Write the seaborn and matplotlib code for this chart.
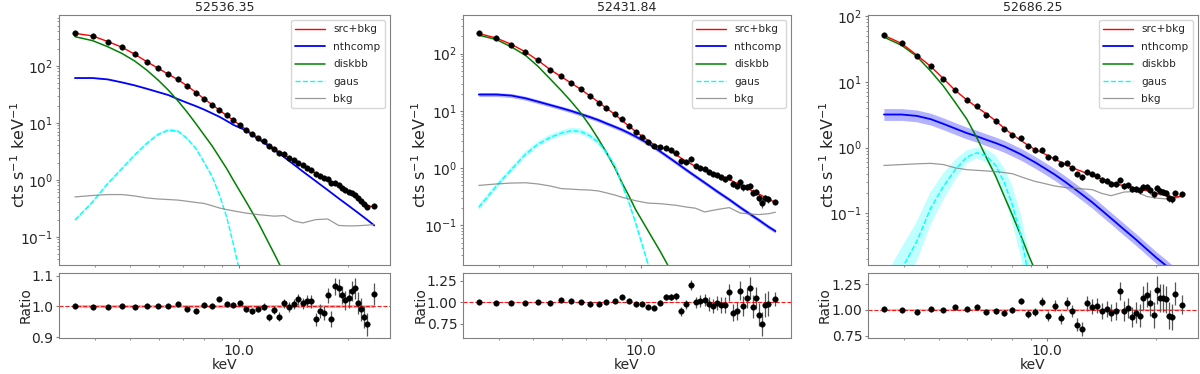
import numpy as np
import matplotlib
matplotlib.use("Agg")
import matplotlib.pyplot as plt
from matplotlib.ticker import FormatStrFormatter, NullFormatter, FixedLocator
import seaborn as sns

sns.set_style("ticks")
plt.rcParams["font.family"] = ["DejaVu Sans"]

# energy grids (keV): data channels and a coarser grid for the model components
energy = [3.52, 3.94, 4.34, 4.75, 5.15, 5.56, 5.98, 6.38, 6.78, 7.19, 7.60, 8.00,
          8.44, 8.84, 9.25, 9.65, 10.06, 10.48, 10.89, 11.31, 11.72, 12.10, 12.52, 12.92,
          13.34, 13.77, 14.18, 14.62, 15.03, 15.48, 15.88, 16.32, 16.75, 17.18, 17.62, 18.03,
          18.46, 18.89, 19.29, 19.72, 20.13, 20.52, 20.91, 21.36, 21.76, 22.20, 22.65, 23.70]
model_energy = [3.52, 3.94, 4.34, 4.75, 5.15, 5.56, 5.98, 6.38, 6.78, 7.19, 7.60, 8.00,
                8.44, 8.84, 9.25, 9.65, 10.48, 11.31, 12.52, 13.34, 14.18, 15.03, 16.32,
                17.62, 18.89, 20.13, 21.36, 22.65, 23.70]

titles = ["52536.35", "52431.84", "52686.25"]

# ---- 52536.35
total_1 = [369, 333, 265, 211, 159, 118, 90, 71, 57, 44.5, 34.3, 26.5, 20.7, 16.6, 13.4, 11.1,
           9.1, 7.6, 6.4, 5.5, 4.75, 4.1, 3.55, 3.1, 2.75, 2.43, 2.18, 1.96, 1.77, 1.58, 1.45, 1.31,
           1.19, 1.09, 1.00, 0.92, 0.84, 0.76, 0.70, 0.645, 0.60, 0.555, 0.51, 0.465, 0.425, 0.39, 0.355, 0.33]
ratio_1 = [1.002, 0.999, 0.997, 1.003, 0.998, 1.001, 1.001, 1.002, 1.008, 0.993, 0.985, 1.004,
           1.003, 1.023, 1.007, 1.004, 1.012, 0.991, 0.984, 0.992, 0.999, 0.964, 0.987, 0.967,
           1.010, 0.999, 1.007, 1.024, 1.010, 1.017, 1.017, 0.958, 0.985, 0.979, 1.036, 0.958,
           1.065, 1.059, 1.038, 1.020, 1.026, 1.051, 1.059, 1.011, 0.990, 0.966, 0.942, 1.042]
ratio_err_1 = [0.002, 0.002, 0.002, 0.002, 0.002, 0.003, 0.003, 0.003, 0.003, 0.004, 0.004, 0.004,
               0.005, 0.005, 0.006, 0.006, 0.007, 0.008, 0.009, 0.010, 0.011, 0.012, 0.013, 0.014,
               0.015, 0.016, 0.017, 0.018, 0.019, 0.020, 0.021, 0.022, 0.023, 0.024, 0.025, 0.026,
               0.028, 0.029, 0.030, 0.031, 0.032, 0.033, 0.034, 0.035, 0.036, 0.037, 0.038, 0.036]
nthcomp_1 = [60.8, 60.8, 57.5, 51.0, 45.2, 39.5, 34.5, 30.6, 26.0, 22.4, 19.6, 17.1, 14.6, 12.7,
             10.8, 9.2, 7.3, 5.2, 3.36, 2.50, 1.86, 1.40, 0.948, 0.659, 0.471, 0.350, 0.264, 0.199, 0.158]
diskbb_1 = [323, 275, 215, 164, 121, 84, 56, 37.4, 24.3, 15.4, 9.7, 6.2, 3.9, 2.47, 1.58, 0.99,
            0.41, 0.178, 0.051, 0.0228, 0.009, 0.004, 1e-3, 3e-4, 1e-4, 3e-5, 1e-5, 3e-6, 1e-6]
gaus_1 = [0.196, 0.41, 0.86, 1.58, 2.71, 4.34, 6.24, 7.43, 7.14, 5.31, 3.55, 2.07, 1.13, 0.538,
          0.224, 0.076, 0.0078, 1e-3, 1e-5, 1e-6, 1e-7, 1e-8, 1e-9, 1e-9, 1e-9, 1e-9, 1e-9, 1e-9, 1e-9]
bkg_1 = [0.50, 0.53, 0.55, 0.55, 0.52, 0.48, 0.46, 0.45, 0.44, 0.42, 0.40, 0.385, 0.35, 0.32,
         0.30, 0.285, 0.26, 0.245, 0.23, 0.235, 0.19, 0.175, 0.20, 0.205, 0.158, 0.155, 0.156, 0.16, 0.164]

# ---- 52431.84
total_2 = [224, 187, 145, 107, 76, 53, 39.5, 30.5, 23.8, 18.3, 14.2, 11.1, 8.7, 6.8, 5.4, 4.35,
           3.6, 3.0, 2.55, 2.35, 2.15, 1.95, 1.72, 1.50, 1.33, 1.19, 1.07, 0.99, 0.93, 0.87, 0.82, 0.77,
           0.72, 0.67, 0.63, 0.59, 0.55, 0.51, 0.48, 0.45, 0.42, 0.395, 0.37, 0.35, 0.33, 0.31, 0.29, 0.25]
ratio_2 = [1.004, 0.996, 0.988, 0.996, 1.008, 0.992, 1.031, 1.012, 1.004, 0.977, 0.977, 1.008,
           1.012, 1.062, 1.019, 0.985, 0.985, 0.942, 0.938, 0.996, 1.058, 1.062, 1.069, 0.896,
           0.977, 1.200, 1.000, 1.012, 1.027, 0.981, 0.962, 0.992, 0.969, 0.965, 1.119, 0.881,
           0.900, 1.138, 0.958, 1.050, 1.165, 0.950, 1.050, 0.858, 0.746, 0.965, 0.985, 1.038]
ratio_err_2 = [0.004, 0.004, 0.004, 0.005, 0.005, 0.006, 0.006, 0.007, 0.008, 0.009, 0.010, 0.011,
               0.013, 0.015, 0.017, 0.019, 0.022, 0.025, 0.028, 0.032, 0.036, 0.040, 0.044, 0.050,
               0.055, 0.060, 0.065, 0.070, 0.074, 0.078, 0.082, 0.086, 0.090, 0.094, 0.098, 0.100,
               0.105, 0.110, 0.115, 0.120, 0.125, 0.130, 0.130, 0.135, 0.140, 0.140, 0.145, 0.080]
nthcomp_2 = [19.3, 19.3, 18.5, 16.6, 14.5, 12.7, 11.2, 9.96, 8.8, 7.8, 6.9, 6.04, 5.28, 4.68,
             4.09, 3.57, 2.69, 1.95, 1.25, 0.94, 0.72, 0.56, 0.39, 0.283, 0.207, 0.158, 0.123, 0.095, 0.0795]
diskbb_2 = [210, 176, 131, 93.5, 60, 36.5, 22.7, 14.5, 9.2, 5.5, 3.2, 1.87, 1.02, 0.556, 0.324,
            0.189, 0.0785, 0.035, 0.011, 0.006, 0.003, 1.5e-3, 5e-4, 2e-4, 7e-5, 2e-5, 7e-6, 2e-6, 1e-6]
gaus_2 = [0.207, 0.485, 0.95, 1.75, 2.62, 3.43, 4.09, 4.5, 4.38, 3.67, 2.8, 1.87, 1.09, 0.52,
          0.247, 0.11, 0.020, 2e-3, 1e-5, 1e-6, 1e-7, 1e-8, 1e-9, 1e-9, 1e-9, 1e-9, 1e-9, 1e-9, 1e-9]
bkg_2 = [0.50, 0.53, 0.55, 0.556, 0.53, 0.49, 0.44, 0.43, 0.42, 0.415, 0.40, 0.37, 0.34, 0.31,
         0.29, 0.27, 0.245, 0.24, 0.225, 0.21, 0.20, 0.172, 0.19, 0.205, 0.165, 0.158, 0.155, 0.16, 0.17]

# ---- 52686.25
total_3 = [51, 38.4, 25.6, 17.1, 11.2, 7.35, 5.3, 4.1, 3.25, 2.55, 1.96, 1.57, 1.29, 1.08, 0.93,
           0.84, 0.75, 0.67, 0.60, 0.545, 0.50, 0.46, 0.43, 0.40, 0.38, 0.355, 0.33, 0.31, 0.29,
           0.28, 0.27, 0.265, 0.26, 0.25, 0.24, 0.235, 0.225, 0.22, 0.21, 0.205, 0.20, 0.195, 0.19,
           0.185, 0.18, 0.175, 0.175, 0.185]
ratio_3 = [1.006, 1.000, 0.978, 1.013, 1.000, 1.026, 1.006, 1.029, 0.978, 0.987, 0.971, 1.003,
           1.087, 0.962, 0.981, 1.080, 0.942, 1.042, 0.920, 1.064, 0.990, 0.856, 0.817, 1.064,
           1.032, 1.042, 0.987, 1.010, 0.974, 0.987, 1.183, 0.990, 1.019, 0.933, 0.974, 0.946,
           1.119, 1.147, 1.071, 0.952, 1.196, 1.115, 1.115, 1.103, 0.946, 0.929, 1.157, 1.051]
ratio_err_3 = [0.008, 0.009, 0.010, 0.011, 0.012, 0.014, 0.016, 0.018, 0.020, 0.022, 0.025, 0.028,
               0.032, 0.036, 0.040, 0.044, 0.048, 0.052, 0.055, 0.058, 0.061, 0.064, 0.067, 0.070,
               0.072, 0.075, 0.078, 0.081, 0.084, 0.087, 0.090, 0.094, 0.098, 0.100, 0.105, 0.110,
               0.115, 0.120, 0.125, 0.130, 0.135, 0.135, 0.135, 0.130, 0.130, 0.125, 0.110, 0.090]
nthcomp_3 = [3.18, 3.18, 3.03, 2.70, 2.29, 1.94, 1.66, 1.48, 1.31, 1.17, 1.04, 0.91, 0.79, 0.685,
             0.595, 0.516, 0.389, 0.29, 0.191, 0.146, 0.11, 0.0838, 0.0568, 0.0398, 0.0283, 0.0208,
             0.016, 0.012, 0.0098]
diskbb_3 = [48, 36, 24.5, 14.5, 8.6, 4.8, 2.7, 1.4, 0.70, 0.367, 0.18, 0.094, 0.046, 0.0243,
            0.0134, 0.0071, 2e-3, 5e-4, 1e-4, 3e-5, 1e-5, 3e-6, 1e-6, 3e-7, 1e-7, 3e-8, 1e-8, 3e-9, 1e-9]
gaus_3 = [0.0044, 0.014, 0.037, 0.12, 0.257, 0.465, 0.718, 0.83, 0.745, 0.535, 0.29, 0.134, 0.046,
          0.0127, 0.003, 6e-4, 1e-5, 1e-6, 1e-7, 1e-8, 1e-9, 1e-9, 1e-9, 1e-9, 1e-9, 1e-9, 1e-9, 1e-9, 1e-9]
bkg_3 = [0.534, 0.55, 0.565, 0.574, 0.55, 0.49, 0.46, 0.45, 0.44, 0.43, 0.415, 0.40, 0.36, 0.33,
         0.305, 0.29, 0.26, 0.245, 0.235, 0.228, 0.20, 0.185, 0.21, 0.215, 0.18, 0.17, 0.165, 0.17, 0.18]

# model uncertainty bands, half-width in dex (ratio band in ratio units)
nth_band = [0.004, 0.035, 0.09]
gaus_band_1 = 0.025
gaus_band_2 = 0.05
gaus_band_3 = [0.35, 0.33, 0.30, 0.25, 0.20, 0.15, 0.10, 0.08, 0.10, 0.15, 0.22, 0.28, 0.32, 0.35,
               0.35, 0.35, 0.35, 0.35, 0.35, 0.35, 0.35, 0.35, 0.35, 0.35, 0.35, 0.35, 0.35, 0.35, 0.35]
ratio_band = [0.005, 0.008, 0.012]

panels = [
    (total_1, ratio_1, ratio_err_1, nthcomp_1, diskbb_1, gaus_1, bkg_1, gaus_band_1),
    (total_2, ratio_2, ratio_err_2, nthcomp_2, diskbb_2, gaus_2, bkg_2, gaus_band_2),
    (total_3, ratio_3, ratio_err_3, nthcomp_3, diskbb_3, gaus_3, bkg_3, gaus_band_3),
]

top_ylim = [(0.032, 775), (0.0204, 472), (0.0163, 104)]
ratio_ylim = [(0.897, 1.109), (0.585, 1.342), (0.728, 1.359)]
ratio_ticks = [[0.9, 1.0, 1.1], [0.75, 1.0, 1.25], [0.75, 1.0, 1.25]]

fig = plt.figure(figsize=(12, 3.74), dpi=100)
W, H = 1200, 374
boxes = [(59, 331), (463, 328), (868, 330)]
ylab_x = [(-0.095, -0.08), (-0.103, -0.107), (-0.093, -0.109)]
e = np.array(energy)
me = np.array(model_energy)

for i, (total, ratio, rerr, nth, disk, gaus, bkg, gband) in enumerate(panels):
    x0, w = boxes[i]
    ax = fig.add_axes([x0 / W, (H - 265) / H, w / W, 250 / H])
    axr = fig.add_axes([x0 / W, (H - 338) / H, w / W, 65 / H])

    total = np.array(total)
    ratio = np.array(ratio)
    rerr = np.array(rerr)
    counts = total * ratio
    cerr = total * rerr

    nth = np.array(nth)
    gaus = np.array(gaus)
    ax.fill_between(me, nth / 10 ** nth_band[i], nth * 10 ** nth_band[i],
                    color="blue", alpha=0.3, lw=0)
    gb = 10 ** np.array(gband)
    ax.fill_between(me, gaus / gb, gaus * gb, color="cyan", alpha=0.25, lw=0)

    sns.lineplot(x=energy, y=total, color="red", lw=1.0, label="src+bkg", ax=ax, zorder=4)
    sns.lineplot(x=model_energy, y=nth, color="blue", lw=1.3, label="nthcomp", ax=ax)
    sns.lineplot(x=model_energy, y=disk, color="green", lw=1.1, label="diskbb", ax=ax)
    sns.lineplot(x=model_energy, y=gaus, color="cyan", lw=1.0, linestyle="--", label="gaus", ax=ax)
    sns.lineplot(x=model_energy, y=bkg, color="gray", lw=0.9, alpha=0.8, label="bkg", ax=ax)

    ax.errorbar(e, counts, yerr=cerr, fmt="none", ecolor="#555555", elinewidth=0.9, zorder=5)
    sns.scatterplot(x=energy, y=counts, color="black", s=16, edgecolor="black", ax=ax, zorder=6)

    ax.set_xscale("log")
    ax.set_yscale("log")
    ax.set_xlim(3.18, 26.2)
    ax.set_ylim(*top_ylim[i])
    ax.set_title(titles[i], fontsize=9, pad=3)
    ax.set_ylabel(r"cts s$^{-1}$ keV$^{-1}$", fontsize=11.5)
    ax.yaxis.set_label_coords(ylab_x[i][0], 0.44)
    ax.set_xlabel("")
    ax.tick_params(which="both", labelbottom=False, color="gray", pad=1.5)
    ax.tick_params(which="major", length=2.5)
    ax.tick_params(which="minor", length=1.5)
    ax.tick_params(axis="y", labelsize=10)
    ax.xaxis.set_minor_formatter(NullFormatter())
    ax.legend(loc="upper right", fontsize=7.6, handlelength=2.8, labelspacing=0.7)

    # ratio panel
    axr.fill_between(e, 1 - ratio_band[i], 1 + ratio_band[i], color="red", alpha=0.3, lw=0)
    axr.axhline(1.0, color="red", ls="--", lw=0.8, alpha=0.9)
    axr.errorbar(e, ratio, yerr=rerr, fmt="none", ecolor="#555555", elinewidth=0.9, zorder=5)
    sns.scatterplot(x=energy, y=ratio, color="black", s=16, edgecolor="black", ax=axr, zorder=6)
    axr.set_xscale("log")
    axr.set_xlim(3.18, 26.2)
    axr.set_ylim(*ratio_ylim[i])
    axr.yaxis.set_major_locator(FixedLocator(ratio_ticks[i]))
    axr.xaxis.set_major_formatter(FormatStrFormatter("%.1f"))
    axr.xaxis.set_minor_formatter(NullFormatter())
    axr.tick_params(which="both", color="gray", labelsize=10, pad=1.5)
    axr.tick_params(which="major", length=2.5)
    axr.tick_params(which="minor", length=1.5)
    axr.set_xlabel("keV", fontsize=10, labelpad=0)
    axr.set_ylabel("Ratio", fontsize=10)
    axr.yaxis.set_label_coords(ylab_x[i][1], 0.5)

    for a in (ax, axr):
        for s in a.spines.values():
            s.set_edgecolor("gray")

fig.savefig("out.png", dpi=100)
